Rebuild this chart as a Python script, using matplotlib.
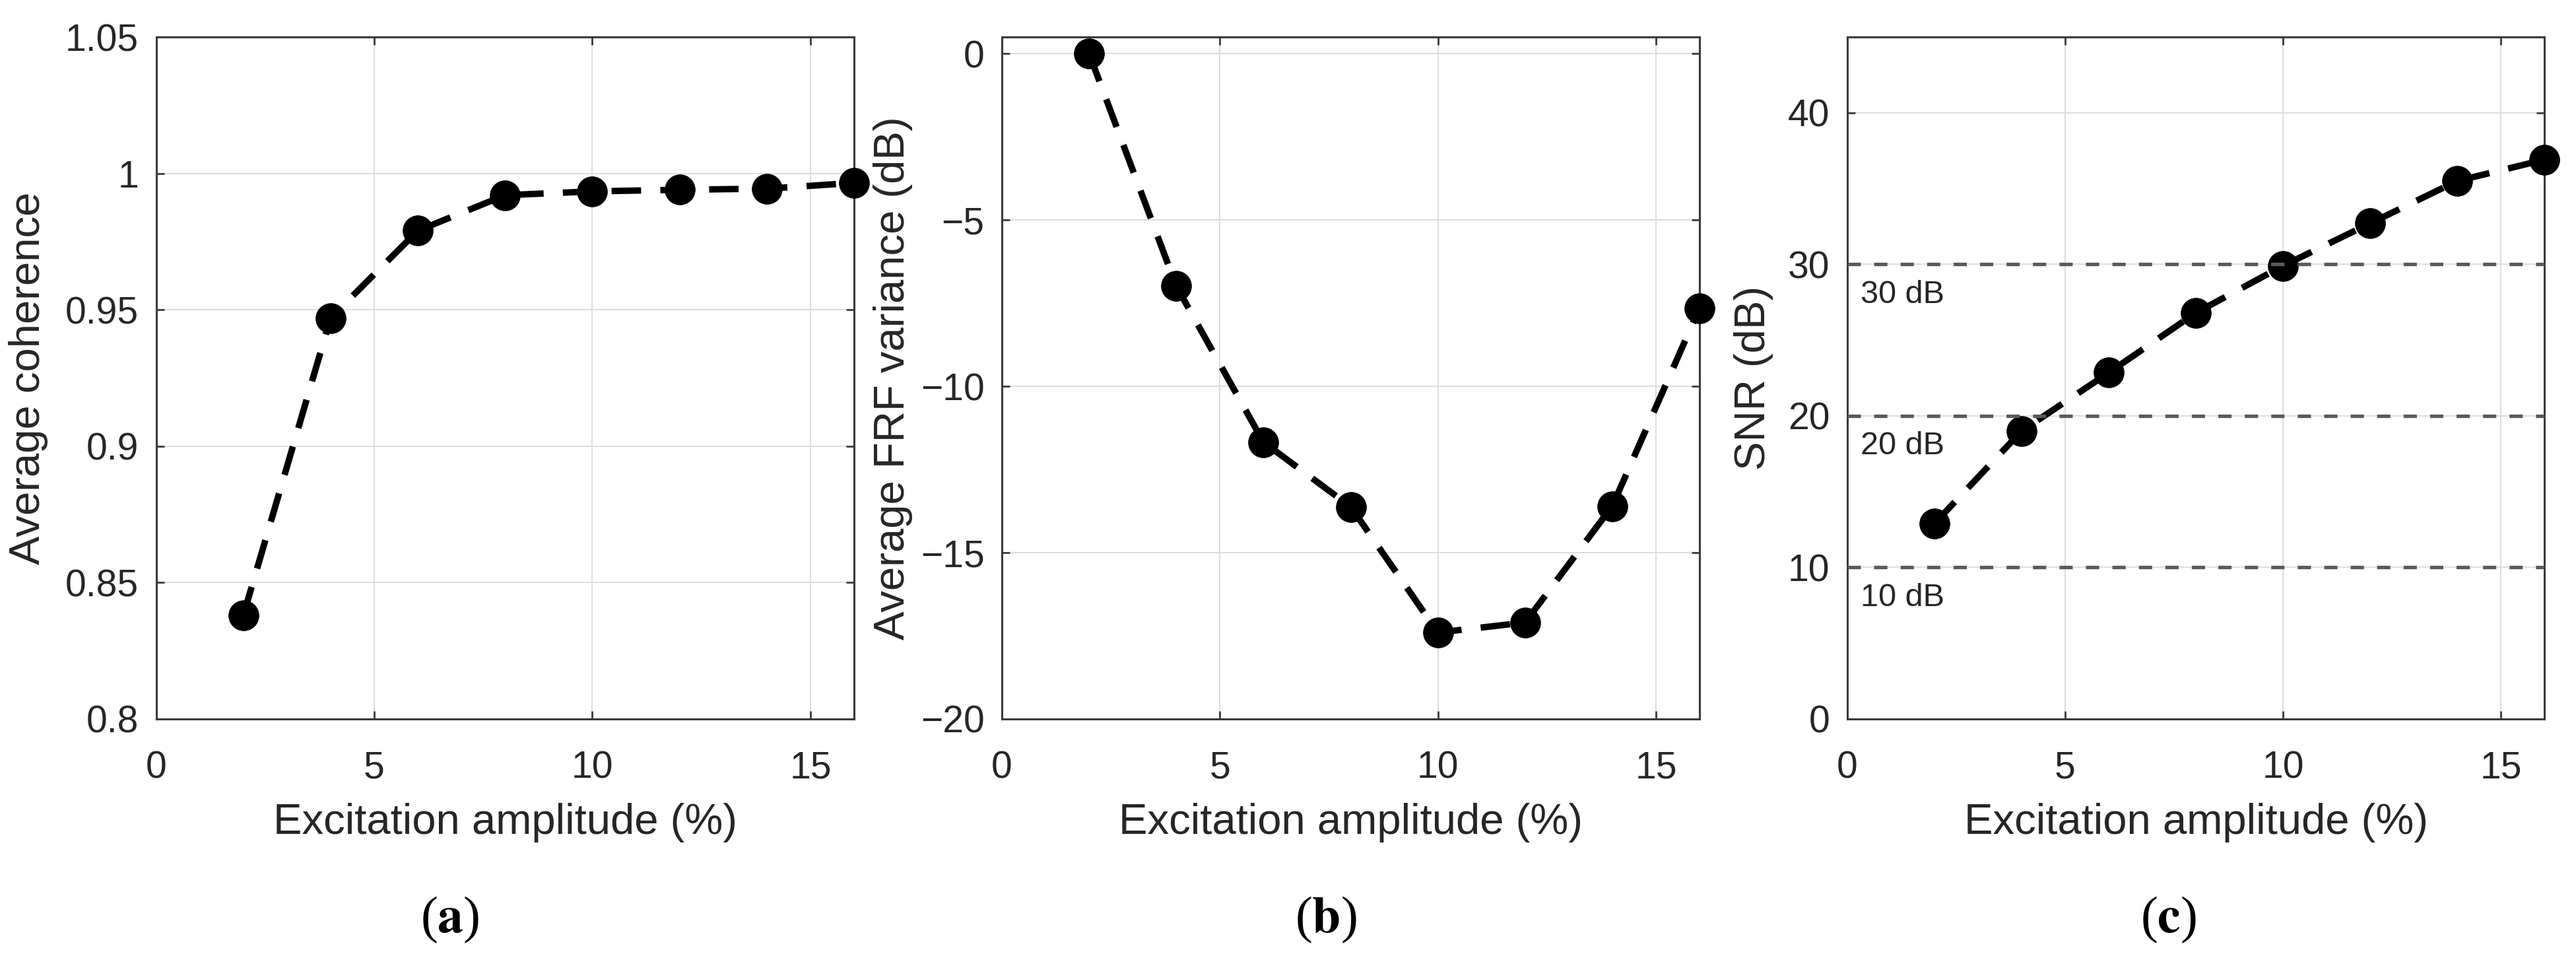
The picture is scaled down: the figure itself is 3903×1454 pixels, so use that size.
import matplotlib
matplotlib.use("Agg")
import matplotlib.pyplot as plt
from matplotlib.ticker import FuncFormatter

# ---- data ----
amplitude = [2, 4, 6, 8, 10, 12, 14, 16]
coherence = [0.838, 0.947, 0.979, 0.992, 0.9934, 0.994, 0.9944, 0.9965]
frf_variance = [0.0, -6.99, -11.68, -13.62, -17.4, -17.1, -13.6, -7.65]
snr = [12.9, 19.0, 22.85, 26.8, 29.9, 32.7, 35.5, 36.9]
snr_levels = [10, 20, 30]
snr_level_labels = ["10 dB", "20 dB", "30 dB"]
captions = ["a", "b", "c"]
xlabel = "Excitation amplitude (%)"
ylabels = ["Average coherence", "Average FRF variance (dB)", "SNR (dB)"]

plt.rcParams['font.family'] = ['Liberation Sans', 'DejaVu Sans']
plt.rcParams['mathtext.fontset'] = 'stix'

W, H = 3903, 1454
fig = plt.figure(figsize=(W / 100, H / 100), dpi=100)

TXT = '#262626'
SPINE = '#3a3a3a'
GRID = '#dedede'

def fmt(v, pos):
    s = f'{v:g}'
    return s.replace('-', '\u2212')

lefts = [236.5, 1518, 2799]
rights = [1294, 2575, 3855]
top_px, bot_px = 56, 1089
ylabel_right = [73, 1383, 2687]
caption_x = [682, 2009, 3285]

ydata = [coherence, frf_variance, snr]
ylims = [(0.8, 1.05), (-20, 0.5), (0, 45)]
yticks = [[0.8, 0.85, 0.9, 0.95, 1.0, 1.05], [-20, -15, -10, -5, 0], [0, 10, 20, 30, 40]]

for i in range(3):
    ax = fig.add_axes([lefts[i] / W, (H - bot_px) / H,
                       (rights[i] - lefts[i]) / W, (bot_px - top_px) / H])
    ax.set_xlim(0, 16)
    ax.set_ylim(*ylims[i])
    ax.set_xticks([0, 5, 10, 15])
    ax.set_yticks(yticks[i])
    ax.xaxis.set_major_formatter(FuncFormatter(fmt))
    ax.yaxis.set_major_formatter(FuncFormatter(fmt))
    ax.grid(True, color=GRID, linewidth=1.5, zorder=0)
    ax.set_axisbelow(True)
    for sp in ax.spines.values():
        sp.set_color(SPINE)
        sp.set_linewidth(2.2)
    ax.tick_params(direction='in', length=8.5, width=2.0, color=SPINE,
                   labelsize=41, labelcolor=TXT, top=True, right=True)
    ax.tick_params(axis='x', pad=34)
    ax.tick_params(axis='y', pad=19)

    ax.plot(amplitude, ydata[i], color='black', linewidth=7.0,
            linestyle=(0, (4.6, 3.0)), marker='o', markersize=33,
            markerfacecolor='black', markeredgecolor='black',
            markeredgewidth=0.5, zorder=4, clip_on=False)

    if i == 2:
        for lv, lt in zip(snr_levels, snr_level_labels):
            ax.axhline(lv, color='#5a5a5a', linewidth=3.8,
                       linestyle=(0, (3.8, 3.8)), zorder=5)
            ax.text(0.3, lv - 2.0, lt, fontsize=35, color=TXT,
                    ha='left', va='center', zorder=3)

    ax.set_xlabel(xlabel, fontsize=47, color=TXT)
    ax.xaxis.set_label_coords(((lefts[i] + rights[i]) / 2) / W, (H - 1216) / H,
                              transform=fig.transFigure)
    ax.set_ylabel(ylabels[i], fontsize=47, color=TXT)
    ax.yaxis.set_label_coords(ylabel_right[i] / W, (H - (top_px + bot_px) / 2) / H,
                              transform=fig.transFigure)

    fig.text(caption_x[i] / W, (H - 1393) / H,
             '($\\mathbf{' + captions[i] + '}$)',
             fontsize=56, family='Liberation Serif', ha='center', va='center',
             color='black')

fig.savefig('out.png', dpi=100, facecolor='white')
